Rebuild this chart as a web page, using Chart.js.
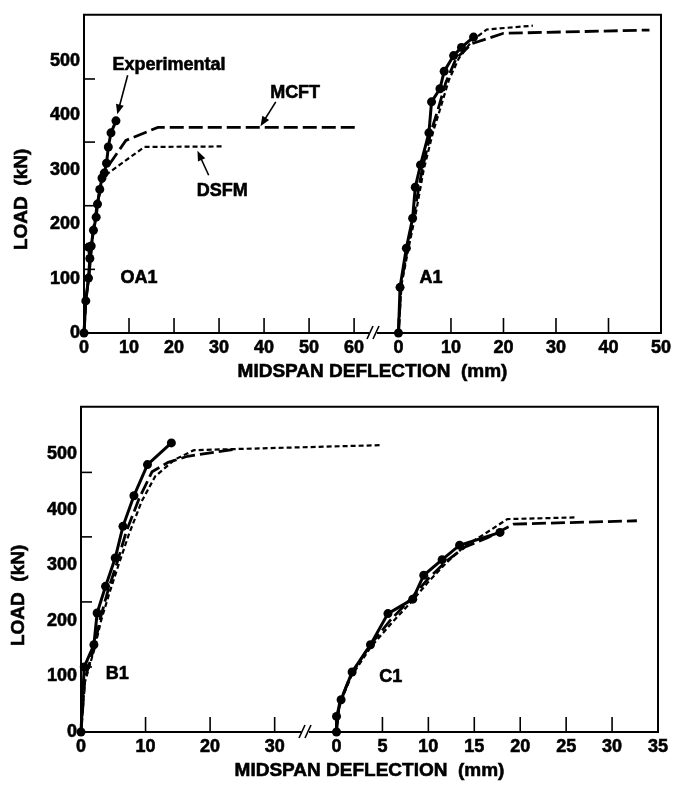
<!DOCTYPE html>
<html lang="en">
<head>
<meta charset="UTF-8">
<title>Load vs midspan deflection</title>
<script src="https://cdn.jsdelivr.net/npm/chart.js"></script>
<style>
    body { margin: 0; background: #fff; }
    canvas { position: absolute; left: 0; }
    #topChart { top: 0; }
    #bottomChart { top: 392px; }
</style>
</head>
<body>
<canvas id="topChart" width="683" height="392"></canvas>
<canvas id="bottomChart" width="683" height="395"></canvas>

<script>
// tick values
const loadTicks = [0, 100, 200, 300, 400, 500];
const loadMinorTicks = [117, 234, 351, 467];
const oa1Ticks = [0, 10, 20, 30, 40, 50, 60];
const a1Ticks = [0, 10, 20, 30, 40, 50];
const b1Ticks = [0, 10, 20, 30];
const c1Ticks = [0, 5, 10, 15, 20, 25, 30, 35];

// OA1 (deflection mm, load kN)
const oa1ExpX  = [0, 0.4, 1.0, 1.3, 1.0, 1.6, 2.1, 2.7, 3.0, 3.5, 4.0, 4.5, 5.0, 5.4, 6.0, 7.1];
const oa1ExpY  = [0, 59, 101, 137, 158, 160, 189, 213, 237, 264, 285, 294, 312, 342, 368, 390];
const oa1McftX = [0, 0.4, 1.1, 2.0, 3.0, 4.2, 5.3, 9.3, 16.4, 60.4];
const oa1McftY = [0, 60, 105, 185, 240, 285, 306, 354, 378, 378];
const oa1DsfmX = [0, 0.4, 1.1, 2.0, 3.0, 4.2, 4.9, 13.4, 30.8];
const oa1DsfmY = [0, 60, 105, 185, 240, 280, 291, 342, 343];

// A1
const a1ExpX  = [0, 0.3, 1.5, 2.7, 3.2, 4.2, 5.8, 6.3, 7.9, 8.7, 10.5, 12.0, 14.3];
const a1ExpY  = [0, 84, 156, 211, 268, 309, 368, 425, 449, 481, 510, 525, 544];
const a1McftX = [0, 0.5, 1.8, 3.0, 4.5, 6.2, 7.5, 9.0, 11.0, 14.0, 20.0, 47.8];
const a1McftY = [0, 90, 160, 220, 300, 370, 410, 460, 505, 532, 551, 557];
const a1DsfmX = [0, 0.6, 2.0, 3.3, 4.8, 6.6, 8.2, 9.6, 11.5, 14.0, 16.8, 25.6];
const a1DsfmY = [0, 90, 160, 220, 300, 370, 420, 465, 505, 537, 558, 565];

// B1
const b1ExpX  = [0, 0.5, 2.0, 2.5, 3.8, 5.3, 6.5, 8.2, 10.3, 14.0];
const b1ExpY  = [0, 117, 157, 214, 262, 313, 370, 425, 481, 520];
const b1McftX = [0, 0.6, 2.1, 3.0, 4.2, 5.6, 7.0, 9.0, 11.0, 13.5, 16.5, 23.6];
const b1McftY = [0, 95, 155, 205, 255, 305, 360, 420, 468, 485, 496, 508];
const b1DsfmX = [0, 0.6, 2.1, 3.1, 4.4, 5.8, 7.4, 9.4, 11.5, 14.5, 17.5, 46.4];
const b1DsfmY = [0, 90, 150, 200, 250, 300, 355, 415, 460, 490, 507, 516];

// C1
const c1ExpX  = [0, 0, 0.5, 1.7, 3.7, 5.6, 8.3, 9.5, 11.5, 13.4, 17.8];
const c1ExpY  = [0, 28, 58, 108, 157, 213, 239, 282, 310, 336, 359];
const c1McftX = [0, 0.3, 1.6, 3.6, 5.8, 8.0, 10.0, 12.0, 14.0, 16.5, 19.3, 32.7];
const c1McftY = [0, 50, 104, 155, 200, 238, 276, 308, 333, 350, 374, 380];
const c1DsfmX = [0, 0.3, 1.6, 3.7, 6.0, 8.2, 10.0, 12.0, 14.0, 16.0, 18.6, 26.0];
const c1DsfmY = [0, 48, 100, 152, 196, 235, 270, 305, 335, 355, 383, 386];

const FONT = '"Liberation Sans", Arial, Helvetica, sans-serif';

function pts(xs, ys) {
    return xs.map((x, i) => ({x: x, y: ys[i]}));
}

function expSet(xs, ys, axis) {
    return {
        label: 'Experimental', data: pts(xs, ys), xAxisID: axis,
        borderColor: '#000', backgroundColor: '#000', borderWidth: 3,
        pointRadius: 4.5, pointBackgroundColor: '#000', pointBorderWidth: 0,
        clip: false
    };
}
function mcftSet(xs, ys, axis) {
    return {
        label: 'MCFT', data: pts(xs, ys), xAxisID: axis,
        borderColor: '#000', borderWidth: 2.8, borderDash: [14, 5],
        pointRadius: 0, clip: false
    };
}
function dsfmSet(xs, ys, axis) {
    return {
        label: 'DSFM', data: pts(xs, ys), xAxisID: axis,
        borderColor: '#000', borderWidth: 2.2, borderDash: [5, 3],
        pointRadius: 0, clip: false
    };
}

function setTicks(values) {
    return scale => { scale.ticks = values.map(v => ({value: v})); };
}

const tickStyle = {
    color: '#000', textStrokeColor: '#000', textStrokeWidth: 0.6,
    font: {family: FONT, size: 18, weight: 'bold'}
};

function xScale(min, max, ticks, weight, height) {
    return {
        type: 'linear', position: 'bottom', stack: 'defl', stackWeight: weight,
        min: min, max: max,
        afterBuildTicks: setTicks(ticks),
        afterFit: s => { s.height = height; },
        grid: {display: false, drawTicks: false},
        border: {display: false},
        ticks: Object.assign({padding: 4, maxRotation: 0}, tickStyle)
    };
}

// frame, inward ticks, axis break, titles and callouts
function framePlugin(cfg) {
    return {
        id: 'frame',
        beforeDatasetsDraw(chart) {
            const {ctx, chartArea: a, scales} = chart;
            const ys = scales.y, x1 = scales.x, x2 = scales.x2;
            const brk = x2.left;
            ctx.save();
            ctx.strokeStyle = '#000';
            ctx.fillStyle = '#000';
            ctx.lineWidth = 2;
            ctx.beginPath();
            ctx.moveTo(brk - 4, a.bottom);
            ctx.lineTo(a.left, a.bottom);
            ctx.lineTo(a.left, a.top);
            ctx.lineTo(a.right, a.top);
            ctx.lineTo(a.right, a.bottom);
            ctx.lineTo(brk + 4, a.bottom);
            ctx.stroke();

            ctx.lineWidth = 1.6;
            [-3, 3].forEach(d => {
                ctx.beginPath();
                ctx.moveTo(brk + d - 3, a.bottom + 6);
                ctx.lineTo(brk + d + 3, a.bottom - 7);
                ctx.stroke();
            });

            [x1, x2].forEach(s => s.ticks.forEach(t => {
                const px = s.getPixelForValue(t.value);
                ctx.beginPath();
                ctx.moveTo(px, a.bottom);
                ctx.lineTo(px, a.bottom - 15);
                ctx.stroke();
            }));
            loadMinorTicks.forEach(v => {
                const py = ys.getPixelForValue(v);
                ctx.beginPath();
                ctx.moveTo(a.left, py);
                ctx.lineTo(a.left + 11, py);
                ctx.stroke();
            });

            ctx.textAlign = 'center';
            ctx.textBaseline = 'middle';
            ctx.lineWidth = 0.6;
            ctx.font = 'bold 19px ' + FONT;
            const label = (txt, x, y) => { ctx.fillText(txt, x, y); ctx.strokeText(txt, x, y); };
            label('MIDSPAN DEFLECTION  (mm)', (a.left + a.right) / 2, a.bottom + 39);
            ctx.save();
            ctx.translate(a.left - 62, a.top + a.height * 0.58);
            ctx.rotate(-Math.PI / 2);
            label('LOAD  (kN)', 0, 0);
            ctx.restore();

            ctx.font = 'bold 18px ' + FONT;
            cfg.texts.forEach(t => {
                label(t.text, scales[t.axis].getPixelForValue(t.x), ys.getPixelForValue(t.y));
            });
            (cfg.arrows || []).forEach(ar => {
                const sx = scales.x.getPixelForValue(ar.from[0]), sy = ys.getPixelForValue(ar.from[1]);
                const ex = scales.x.getPixelForValue(ar.to[0]), ey = ys.getPixelForValue(ar.to[1]);
                const ang = Math.atan2(ey - sy, ex - sx);
                ctx.lineWidth = 1.6;
                ctx.beginPath();
                ctx.moveTo(sx, sy);
                ctx.lineTo(ex - 6 * Math.cos(ang), ey - 6 * Math.sin(ang));
                ctx.stroke();
                ctx.beginPath();
                ctx.moveTo(ex, ey);
                ctx.lineTo(ex - 10 * Math.cos(ang) + 4 * Math.sin(ang), ey - 10 * Math.sin(ang) - 4 * Math.cos(ang));
                ctx.lineTo(ex - 10 * Math.cos(ang) - 4 * Math.sin(ang), ey - 10 * Math.sin(ang) + 4 * Math.cos(ang));
                ctx.closePath();
                ctx.fill();
            });
            ctx.restore();
        }
    };
}

function makeChart(id, datasets, opts) {
    return new Chart(document.getElementById(id), {
        type: 'line',
        data: {datasets: datasets},
        options: {
            responsive: false,
            animation: false,
            events: [],
            layout: {padding: opts.padding},
            plugins: {legend: {display: false}, tooltip: {enabled: false}},
            scales: {
                y: {
                    type: 'linear', min: 0, max: 585,
                    afterBuildTicks: setTicks(loadTicks),
                    afterFit: s => { s.width = opts.yWidth; },
                    grid: {display: false, drawTicks: false},
                    border: {display: false},
                    ticks: Object.assign({padding: 4}, tickStyle)
                },
                x: opts.x1,
                x2: opts.x2
            }
        },
        plugins: [framePlugin(opts.frame)]
    });
}

// top: OA1 | A1
makeChart('topChart', [
    expSet(oa1ExpX, oa1ExpY, 'x'),
    expSet(a1ExpX, a1ExpY, 'x2'),
    mcftSet(oa1McftX, oa1McftY, 'x'),
    dsfmSet(oa1DsfmX, oa1DsfmY, 'x'),
    mcftSet(a1McftX, a1McftY, 'x2'),
    dsfmSet(a1DsfmX, a1DsfmY, 'x2')
], {
    padding: {top: 8, right: 22, left: 0, bottom: 0},
    yWidth: 84,
    x1: xScale(0, 64.2, oa1Ticks, 289, 59),
    x2: xScale(-4.85, 50, a1Ticks, 288, 59),
    frame: {
        texts: [
            {text: 'Experimental', axis: 'x', x: 18.9, y: 492},
            {text: 'MCFT', axis: 'x', x: 46.9, y: 441},
            {text: 'DSFM', axis: 'x', x: 30.7, y: 261},
            {text: 'OA1', axis: 'x', x: 12.2, y: 101},
            {text: 'A1', axis: 'x2', x: 6.2, y: 101}
        ],
        arrows: [
            {from: [9.7, 474], to: [7.4, 402]},
            {from: [42.6, 425], to: [39.2, 380]},
            {from: [27.7, 290], to: [25.2, 335]}
        ]
    }
});

// bottom: B1 | C1
makeChart('bottomChart', [
    expSet(b1ExpX, b1ExpY, 'x'),
    expSet(c1ExpX, c1ExpY, 'x2'),
    mcftSet(b1McftX, b1McftY, 'x'),
    dsfmSet(b1DsfmX, b1DsfmY, 'x'),
    mcftSet(c1McftX, c1McftY, 'x2'),
    dsfmSet(c1DsfmX, c1DsfmY, 'x2')
], {
    padding: {top: 13, right: 25, left: 0, bottom: 0},
    yWidth: 81,
    x1: xScale(0, 34.7, b1Ticks, 224, 55),
    x2: xScale(-3.43, 35, c1Ticks, 353, 55),
    frame: {
        texts: [
            {text: 'B1', axis: 'x', x: 5.6, y: 105},
            {text: 'C1', axis: 'x2', x: 5.9, y: 98}
        ]
    }
});
</script>
</body>
</html>
